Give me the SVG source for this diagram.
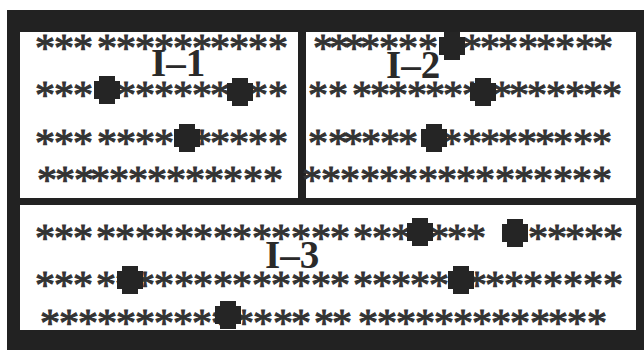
<svg xmlns="http://www.w3.org/2000/svg" xmlns:xlink="http://www.w3.org/1999/xlink" width="644" height="350" viewBox="0 0 644 350">
<style>
.a{font-family:"Liberation Serif","Times New Roman",serif;font-size:40px;text-anchor:middle;fill:#333;stroke:#333;stroke-width:1px}
.lbl{font-family:"Liberation Serif","Times New Roman",serif;font-weight:bold;font-size:39px;fill:#2a2a2a}
.sq{fill:#252525}
</style>
<defs>
<path id="sq" class="sq" d="M-8,-14 H8 V-9 H13 V9 H8 V14 H-8 V9 H-13 V-9 H-8 Z"/>
</defs>
<rect width="644" height="350" fill="#fff"/>
<rect x="7" y="10" width="637" height="340" fill="#222"/>
<g id="plot-I-1">
<rect x="20" y="32" width="278" height="166" fill="#fff"/>
<text class="a" x="45 64 83 107 126 145 164 183 202 220 239 258 278" y="61">*************</text>
<text class="a" x="45 64 83 107 126 145 164 183 202 220 239 258 278" y="108">*************</text>
<text class="a" x="45 64 83 107 126 145 164 183 202 220 239 258 278" y="156">*************</text>
<text class="a" x="47 65 84 100 119 138 157 176 195 214 233 253 273" y="193">*************</text>
<use xlink:href="#sq" x="107" y="90"/>
<use xlink:href="#sq" x="240" y="92"/>
<use xlink:href="#sq" x="187" y="138"/>
<text class="lbl" x="151" y="76">I–1</text>
</g>
<g id="plot-I-2">
<rect x="306" y="32" width="330" height="166" fill="#fff"/>
<text class="a" x="323 339 354 370 389 408 428 450 472 490 508 528 546 565 585 603" y="61">****************</text>
<text class="a" x="318 338 362 380 398 417 435 453 472 486 502 519 537 556 575 593 612" y="108">*****************</text>
<text class="a" x="318 338 353 371 390 408 430 452 472 490 508 527 545 563 583 602" y="156">****************</text>
<text class="a" x="312 331 350 370 389 408 428 447 466 485 505 524 543 563 582 602" y="193">****************</text>
<use xlink:href="#sq" x="452" y="46"/>
<use xlink:href="#sq" x="483" y="92"/>
<use xlink:href="#sq" x="434" y="138"/>
<text class="lbl" x="386" y="78">I–2</text>
</g>
<g id="plot-I-3">
<rect x="20" y="205" width="616" height="125" fill="#fff"/>
<text class="a" x="45 64 83 106 125 145 164 184 203 223 242 262 281 301 321 340 363 382 401 420 439 457 476 515 538 557 575 594 613" y="251">*****************************</text>
<text class="a" x="45 64 83 106 125 145 164 184 203 223 242 262 281 301 321 340 363 382 401 420 439 458 477 495 514 533 553 573 593 613" y="298">******************************</text>
<text class="a" x="50 69 88 107 126 145 164 183 202 221 244 263 283 301 324 342 368 387 406 425 444 463 482 501 520 540 558 577 597" y="336">*****************************</text>
<use xlink:href="#sq" x="420" y="232"/>
<use xlink:href="#sq" x="515" y="233"/>
<use xlink:href="#sq" x="130" y="280"/>
<use xlink:href="#sq" x="461" y="280"/>
<use xlink:href="#sq" x="228" y="315"/>
<text class="lbl" x="265" y="268">I–3</text>
</g>
</svg>
